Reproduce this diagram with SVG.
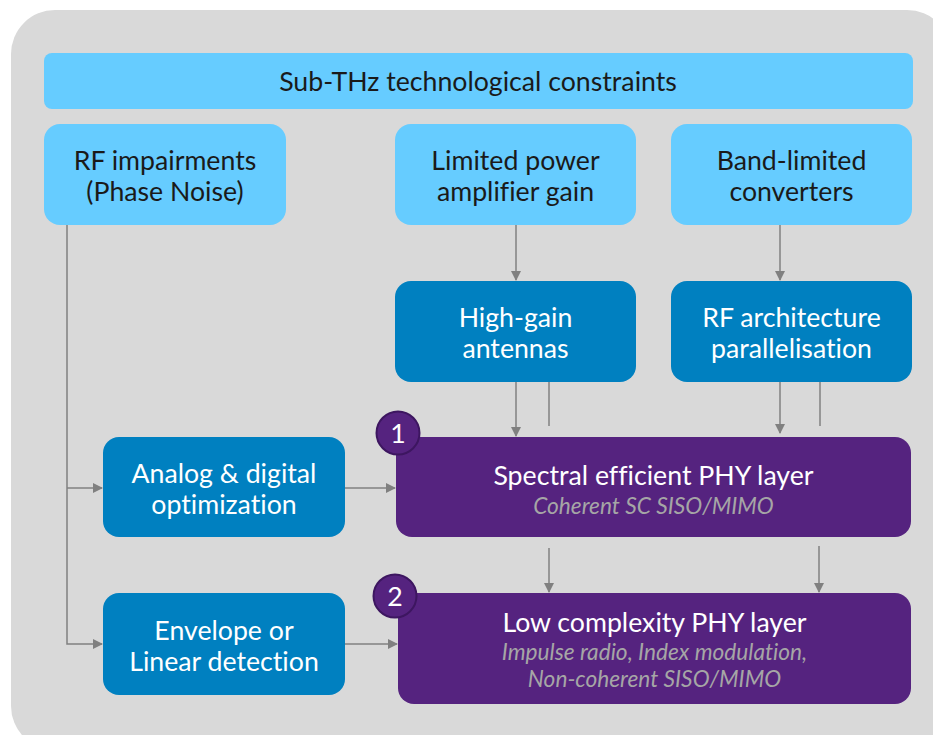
<svg xmlns="http://www.w3.org/2000/svg" width="933" height="735" viewBox="0 0 933 735">
<style>
.bg{fill:#d9d9d9}
.lb{fill:#66ccff}
.db{fill:#0080c0}
.pb{fill:#55237f}
.t{font-family:Lato,"Open Sans","Liberation Sans",sans-serif;font-size:26.7px;text-anchor:middle;font-variant-ligatures:none}
.tk{fill:#1a1a1a}
.tw{fill:#ffffff}
.ti{font-family:Lato,"Open Sans","Liberation Sans",sans-serif;font-size:22.7px;font-style:italic;text-anchor:middle;fill:#a6a6a6;font-variant-ligatures:none}
.c{stroke:#808080;stroke-width:1.5;fill:none}
.num{fill:#55237f;stroke:#3d1660;stroke-width:2}
</style>
<defs>
<marker id="ah" markerWidth="10" markerHeight="10" refX="9" refY="5" orient="auto" markerUnits="userSpaceOnUse">
<path d="M0,0 L10,5 L0,10 Z" fill="#808080"/>
</marker>
</defs>
<rect class="bg" x="11" y="10" width="940" height="740" rx="44"/>
<g id="connectors">
<path class="c" d="M67,225 V644 H102" marker-end="url(#ah)"/>
<path class="c" d="M67,488 H102" marker-end="url(#ah)"/>
<path class="c" d="M345,488 H395" marker-end="url(#ah)"/>
<path class="c" d="M345,644 H397" marker-end="url(#ah)"/>
<path class="c" d="M516,225 V280" marker-end="url(#ah)"/>
<path class="c" d="M780,225 V280" marker-end="url(#ah)"/>
<path class="c" d="M516,382 V436" marker-end="url(#ah)"/>
<path class="c" d="M549,382 V426"/>
<path class="c" d="M780,382 V433" marker-end="url(#ah)"/>
<path class="c" d="M820,382 V426"/>
<path class="c" d="M549,548 V592" marker-end="url(#ah)"/>
<path class="c" d="M819,546 V592" marker-end="url(#ah)"/>
</g>
<g id="constraints">
<rect class="lb" x="44" y="53" width="869" height="56" rx="8"/>
<text class="t tk" x="478" y="91">Sub-THz technological constraints</text>
</g>
<g id="rf-impairments">
<rect class="lb" x="44" y="124" width="242" height="101" rx="16"/>
<text class="t tk" x="165" y="170">RF impairments</text>
<text class="t tk" x="165" y="201">(Phase Noise)</text>
</g>
<g id="power-amp">
<rect class="lb" x="395" y="124" width="241" height="101" rx="16"/>
<text class="t tk" x="515.5" y="170">Limited power</text>
<text class="t tk" x="515.5" y="201">amplifier gain</text>
</g>
<g id="converters">
<rect class="lb" x="671" y="124" width="241" height="101" rx="16"/>
<text class="t tk" x="791.5" y="170">Band-limited</text>
<text class="t tk" x="791.5" y="201">converters</text>
</g>
<g id="antennas">
<rect class="db" x="395" y="281" width="241" height="101" rx="16"/>
<text class="t tw" x="515.5" y="327">High-gain</text>
<text class="t tw" x="515.5" y="358">antennas</text>
</g>
<g id="rf-arch">
<rect class="db" x="671" y="281" width="241" height="101" rx="16"/>
<text class="t tw" x="791.5" y="327">RF architecture</text>
<text class="t tw" x="791.5" y="358">parallelisation</text>
</g>
<g id="analog">
<rect class="db" x="103" y="437" width="242" height="100" rx="16"/>
<text class="t tw" x="224" y="483">Analog &amp; digital</text>
<text class="t tw" x="224" y="514">optimization</text>
</g>
<g id="envelope">
<rect class="db" x="103" y="593" width="242" height="102" rx="16"/>
<text class="t tw" x="224" y="640">Envelope or</text>
<text class="t tw" x="224" y="671">Linear detection</text>
</g>
<g id="spectral">
<rect class="pb" x="396" y="437" width="515" height="100" rx="16"/>
<text class="t tw" x="653.5" y="485">Spectral efficient PHY layer</text>
<text class="ti" x="653.5" y="514">Coherent SC SISO/MIMO</text>
</g>
<g id="lowcomplexity">
<rect class="pb" x="398" y="593" width="513" height="111" rx="16"/>
<text class="t tw" x="654.5" y="632">Low complexity PHY layer</text>
<text class="ti" x="654.5" y="660">Impulse radio, Index modulation,</text>
<text class="ti" x="654.5" y="687">Non-coherent SISO/MIMO</text>
</g>
<g id="badge1">
<circle class="num" cx="398" cy="433" r="21.5"/>
<text class="t tw" x="398" y="443">1</text>
</g>
<g id="badge2">
<circle class="num" cx="395" cy="596" r="21.5"/>
<text class="t tw" x="395" y="606">2</text>
</g>
</svg>
